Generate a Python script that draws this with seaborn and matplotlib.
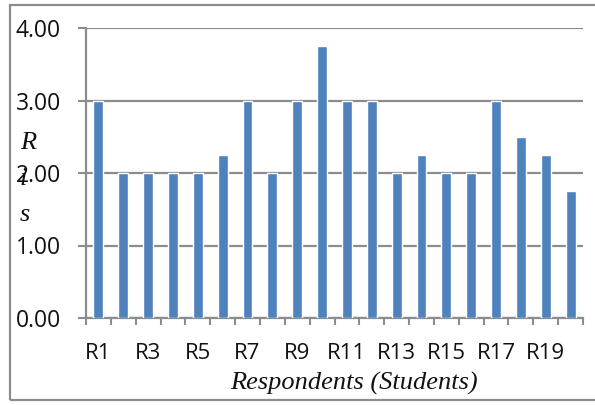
import matplotlib
matplotlib.use("Agg")
import matplotlib.pyplot as plt
from matplotlib.patches import Rectangle
from matplotlib.ticker import FixedLocator, FormatStrFormatter
import seaborn as sns
import pandas as pd

respondents = [f"R{i}" for i in range(1, 21)]
scores = [3.00, 2.00, 2.00, 2.00, 2.00, 2.25, 3.00, 2.00, 3.00, 3.75,
          3.00, 3.00, 2.00, 2.25, 2.00, 2.00, 3.00, 2.50, 2.25, 1.75]
y_ticks = [0, 1, 2, 3, 4]

df = pd.DataFrame({"respondent": respondents, "score": scores})

sns.set_theme(style="white")
plt.rcParams["font.family"] = ["Open Sans", "DejaVu Sans"]

W, H = 595, 405
fig = plt.figure(figsize=(W / 100, H / 100), dpi=100)
ax = fig.add_axes([86 / W, 1 - 318 / H, (583 - 86) / W, (318 - 28) / H])

sns.barplot(data=df, x="respondent", y="score", color="#4F81BD",
            width=0.4, saturation=1, ax=ax, zorder=3)

grey = "#8C8C8C"
ax.set_ylim(0, 4)
ax.set_xlim(-0.5, len(respondents) - 0.5)
ax.set_yticks(y_ticks)
ax.yaxis.set_major_formatter(FormatStrFormatter("%.2f"))
ax.grid(axis="y", color=grey, linewidth=1.6, zorder=0)
ax.set_axisbelow(True)

# category labels on every other bar, boundary ticks between bars
ax.set_xticks(range(0, len(respondents), 2))
ax.set_xticklabels(respondents[::2])
ax.xaxis.set_minor_locator(FixedLocator([i - 0.5 for i in range(len(respondents) + 1)]))
ax.tick_params(axis="x", which="major", length=0, pad=18, labelsize=16, colors="#111111")
ax.tick_params(axis="x", which="minor", length=5, width=1.5, color=grey, direction="out", bottom=True)
ax.tick_params(axis="y", which="major", length=6, width=1.5, color=grey, pad=12,
               labelsize=16.5, labelcolor="#111111", left=True)

for side in ["top", "right"]:
    ax.spines[side].set_visible(False)
for side in ["left", "bottom"]:
    ax.spines[side].set_color(grey)
    ax.spines[side].set_linewidth(1.6)

ax.set_xlabel("")
ax.set_ylabel("")

fig.text(354 / W, 1 - 383 / H, "Respondents (Students)", ha="center", va="center",
         family="Liberation Serif", style="italic", fontsize=19, color="#111111")
fig.text(20 / W, 1 - 179 / H, "R\ni\ns", ha="left", va="center", multialignment="left",
         family="Liberation Serif", style="italic", fontsize=19, linespacing=1.8,
         color="#111111")

fig.patches.append(Rectangle((10 / W, 1 - 400 / H), 1.0, (400 - 5) / H,
                             transform=fig.transFigure, fill=False,
                             edgecolor=grey, linewidth=1.6))

fig.savefig("out.png", dpi=100)
